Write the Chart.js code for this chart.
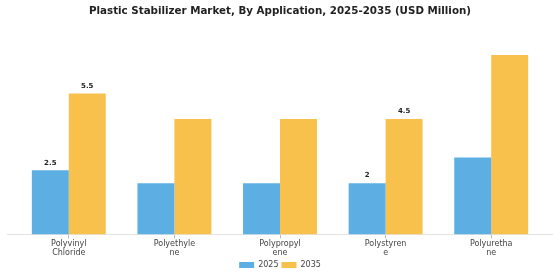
<!DOCTYPE html>
<html>
<head>
<meta charset="utf-8">
<script src="https://cdn.jsdelivr.net/npm/chart.js@4"></script>
<style>
  html, body { margin: 0; padding: 0; background: #fff; }
  #wrap { width: 560px; height: 280px; }
</style>
</head>
<body>
<div id="wrap"><canvas id="chart"></canvas></div>
<script>
// chart data
const categories = [
  ['Polyvinyl', 'Chloride'],
  ['Polyethyle', 'ne'],
  ['Polypropyl', 'ene'],
  ['Polystyren', 'e'],
  ['Polyuretha', 'ne']
];
const values2025 = [2.5, 2, 2, 2, 3];
const values2035 = [5.5, 4.5, 4.5, 4.5, 7];
// only a few bars carry a value label in the original
const labels2025 = ['2.5', null, null, '2', null];
const labels2035 = ['5.5', null, null, '4.5', null];
const yTicks = [0, 8];

// draws the small bold numbers above some bars
const valueLabels = {
  id: 'valueLabels',
  afterDatasetsDraw(chart) {
    const ctx = chart.ctx;
    const lists = [labels2025, labels2035];
    ctx.save();
    ctx.font = 'bold 7px "DejaVu Sans"';
    ctx.fillStyle = '#222';
    ctx.textAlign = 'center';
    ctx.textBaseline = 'bottom';
    lists.forEach((list, di) => {
      chart.getDatasetMeta(di).data.forEach((bar, i) => {
        if (list[i]) ctx.fillText(list[i], bar.x, bar.y - 4);
      });
    });
    ctx.restore();
  }
};

// baseline runs a bit past the outer bars
const baseline = {
  id: 'baseline',
  beforeDatasetsDraw(chart) {
    const { ctx, chartArea } = chart;
    ctx.save();
    ctx.strokeStyle = '#e3e3e3';
    ctx.lineWidth = 1;
    ctx.beginPath();
    ctx.moveTo(7, Math.round(chartArea.bottom) + 0.5);
    ctx.lineTo(553, Math.round(chartArea.bottom) + 0.5);
    ctx.stroke();
    ctx.restore();
  }
};

const ctx = document.getElementById('chart').getContext('2d');
const chart = new Chart(ctx, {
  type: 'bar',
  data: {
    labels: categories,
    datasets: [
      { label: '2025', data: values2025, backgroundColor: '#5DAFE3', categoryPercentage: 0.7, barPercentage: 1 },
      { label: '2035', data: values2035, backgroundColor: '#F7C14C', categoryPercentage: 0.7, barPercentage: 1 }
    ]
  },
  options: {
    responsive: true,
    maintainAspectRatio: false,
    animation: false,
    layout: { padding: { left: 16, right: 16, top: 0, bottom: 1 } },
    scales: {
      x: {
        grid: { display: true, drawOnChartArea: false, offset: false, tickLength: 4, color: '#bbb' },
        border: { display: false },
        ticks: { color: '#444', font: { family: 'DejaVu Sans', size: 8, lineHeight: 1.1 }, padding: 1, maxRotation: 0, autoSkip: false }
      },
      y: {
        display: false,
        min: yTicks[0],
        max: yTicks[1]
      }
    },
    plugins: {
      title: {
        display: true,
        text: 'Plastic Stabilizer Market, By Application, 2025-2035 (USD Million)',
        color: '#222',
        font: { family: 'DejaVu Sans', size: 10.3, weight: 'bold' },
        padding: { top: 5, bottom: 12 }
      },
      legend: {
        position: 'bottom',
        labels: {
          boxWidth: 15,
          boxHeight: 6,
          color: '#444',
          font: { family: 'DejaVu Sans', size: 8 },
          padding: 3
        }
      },
      tooltip: { enabled: false }
    }
  },
  plugins: [valueLabels, baseline]
});
</script>
</body>
</html>
